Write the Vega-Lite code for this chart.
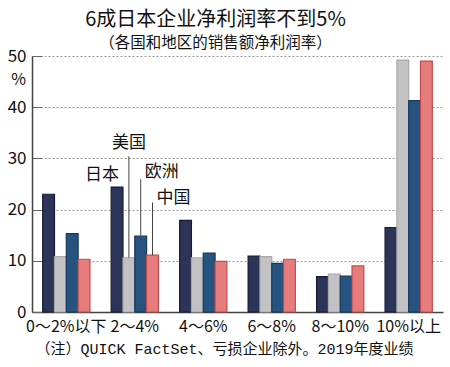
{
  "$schema": "https://vega.github.io/schema/vega-lite/v6.json",
  "autosize": {"type": "none"},
  "width": 411,
  "height": 256,
  "padding": {"left": 32, "top": 56, "right": 7, "bottom": 55},
  "background": "white",
  "title": {
    "text": "6成日本企业净利润率不到5%",
    "subtitle": "（各国和地区的销售额净利润率）",
    "anchor": "middle",
    "dx": -22,
    "offset": -4,
    "font": "Noto Sans CJK SC",
    "fontSize": 20,
    "fontWeight": "normal",
    "color": "#111",
    "subtitleFont": "Noto Sans CJK SC",
    "subtitleFontSize": 15.5,
    "subtitleColor": "#111",
    "subtitlePadding": 6
  },
  "config": {
    "view": {"stroke": null},
    "font": "Noto Sans CJK SC"
  },
  "datasets": {
    "bars": [
      {"group": "0～2%以下", "series": "日本", "value": 23.0},
      {"group": "0～2%以下", "series": "美国", "value": 10.8},
      {"group": "0～2%以下", "series": "欧洲", "value": 15.3},
      {"group": "0～2%以下", "series": "中国", "value": 10.3},
      {"group": "2～4%", "series": "日本", "value": 24.4},
      {"group": "2～4%", "series": "美国", "value": 10.6},
      {"group": "2～4%", "series": "欧洲", "value": 14.8},
      {"group": "2～4%", "series": "中国", "value": 11.1},
      {"group": "4～6%", "series": "日本", "value": 17.9},
      {"group": "4～6%", "series": "美国", "value": 10.6},
      {"group": "4～6%", "series": "欧洲", "value": 11.5},
      {"group": "4～6%", "series": "中国", "value": 9.9},
      {"group": "6～8%", "series": "日本", "value": 10.9},
      {"group": "6～8%", "series": "美国", "value": 10.8},
      {"group": "6～8%", "series": "欧洲", "value": 9.5},
      {"group": "6～8%", "series": "中国", "value": 10.3},
      {"group": "8～10%", "series": "日本", "value": 6.9},
      {"group": "8～10%", "series": "美国", "value": 7.4},
      {"group": "8～10%", "series": "欧洲", "value": 7.0},
      {"group": "8～10%", "series": "中国", "value": 9.0},
      {"group": "10%以上", "series": "日本", "value": 16.5},
      {"group": "10%以上", "series": "美国", "value": 49.2},
      {"group": "10%以上", "series": "欧洲", "value": 41.3},
      {"group": "10%以上", "series": "中国", "value": 49.0}
    ],
    "leaders": [
      {"group": "2～4%", "series": "美国", "top": 30.4, "bottom": 10.6},
      {"group": "2～4%", "series": "欧洲", "top": 25.9, "bottom": 14.8},
      {"group": "2～4%", "series": "中国", "top": 21.4, "bottom": 11.1}
    ],
    "labelsCenter": [
      {"group": "2～4%", "series": "美国", "label": "美国", "pos": 33.0}
    ],
    "labelsLeft": [
      {"group": "2～4%", "series": "欧洲", "label": "欧洲", "pos": 27.3},
      {"group": "2～4%", "series": "中国", "label": "中国", "pos": 22.3}
    ],
    "labelsRight": [
      {"group": "2～4%", "series": "日本", "label": "日本", "pos": 26.8}
    ]
  },
  "encoding": {
    "x": {
      "field": "group",
      "type": "nominal",
      "sort": ["0～2%以下", "2～4%", "4～6%", "6～8%", "8～10%", "10%以上"],
      "scale": {"paddingInner": 0.31, "paddingOuter": 0.156},
      "axis": {
        "title": "（注）QUICK FactSet、亏损企业除外。2019年度业绩",
        "titleFont": "Liberation Mono, Noto Sans CJK SC",
        "titleFontSize": 15,
        "titleFontWeight": "normal",
        "titleColor": "#111",
        "titleAnchor": "start",
        "titleAlign": "left",
        "titleX": 3,
        "titleY": 36,
        "titleBaseline": "middle",
        "labelAngle": 0,
        "labelFont": "Liberation Sans Narrow, Noto Sans CJK SC",
        "labelFontSize": 16,
        "labelColor": "#111",
        "labelPadding": 6,
        "ticks": false,
        "domainColor": "#444",
        "domainWidth": 1.5
      }
    },
    "xOffset": {
      "field": "series",
      "type": "nominal",
      "sort": ["日本", "美国", "欧洲", "中国"],
      "scale": {"domain": ["日本", "美国", "欧洲", "中国"], "paddingInner": 0, "paddingOuter": 0}
    }
  },
  "layer": [
    {
      "data": {"name": "bars"},
      "mark": {"type": "bar", "strokeWidth": 1.2},
      "encoding": {
        "y": {
          "field": "value",
          "type": "quantitative",
          "scale": {"domain": [0, 50], "nice": false},
          "axis": {
            "values": [0, 10, 20, 30, 40, 50],
            "title": "%",
            "titleAngle": 0,
            "titleX": -14,
            "titleY": 23,
            "titleAlign": "center",
            "titleBaseline": "middle",
            "titleFont": "Liberation Sans Narrow, Noto Sans CJK SC",
            "titleFontSize": 16,
            "titleFontWeight": "normal",
            "titleColor": "#111",
            "labelFont": "Liberation Sans Narrow, Noto Sans CJK SC",
            "labelFontSize": 17,
            "labelColor": "#111",
            "tickSize": -10,
            "tickColor": "#666",
            "labelPadding": 16,
            "grid": true,
            "gridDash": [2, 2],
            "gridColor": "#999",
            "domainColor": "#444",
            "domainWidth": 1.5
          }
        },
        "fill": {
          "field": "series",
          "type": "nominal",
          "scale": {"domain": ["日本", "美国", "欧洲", "中国"], "range": ["#2c3459", "#c2c2c4", "#26537f", "#e67c7c"]},
          "legend": null
        },
        "stroke": {
          "field": "series",
          "type": "nominal",
          "scale": {"domain": ["日本", "美国", "欧洲", "中国"], "range": ["#161b33", "#a8a8aa", "#17385a", "#c24c4c"]},
          "legend": null
        }
      }
    },
    {
      "data": {"name": "leaders"},
      "mark": {"type": "rule", "color": "#444", "strokeWidth": 1},
      "encoding": {
        "y": {"field": "top", "type": "quantitative"},
        "y2": {"field": "bottom"}
      }
    },
    {
      "data": {"name": "labelsCenter"},
      "mark": {"type": "text", "align": "center", "baseline": "middle", "fontSize": 17, "font": "Noto Sans CJK SC", "color": "#111"},
      "encoding": {
        "y": {"field": "pos", "type": "quantitative"},
        "text": {"field": "label"}
      }
    },
    {
      "data": {"name": "labelsLeft"},
      "mark": {"type": "text", "align": "left", "baseline": "middle", "dx": 4, "fontSize": 17, "font": "Noto Sans CJK SC", "color": "#111"},
      "encoding": {
        "y": {"field": "pos", "type": "quantitative"},
        "text": {"field": "label"}
      }
    },
    {
      "data": {"name": "labelsRight"},
      "mark": {"type": "text", "align": "right", "baseline": "middle", "dx": 2, "fontSize": 17, "font": "Noto Sans CJK SC", "color": "#111"},
      "encoding": {
        "y": {"field": "pos", "type": "quantitative"},
        "text": {"field": "label"}
      }
    }
  ]
}
